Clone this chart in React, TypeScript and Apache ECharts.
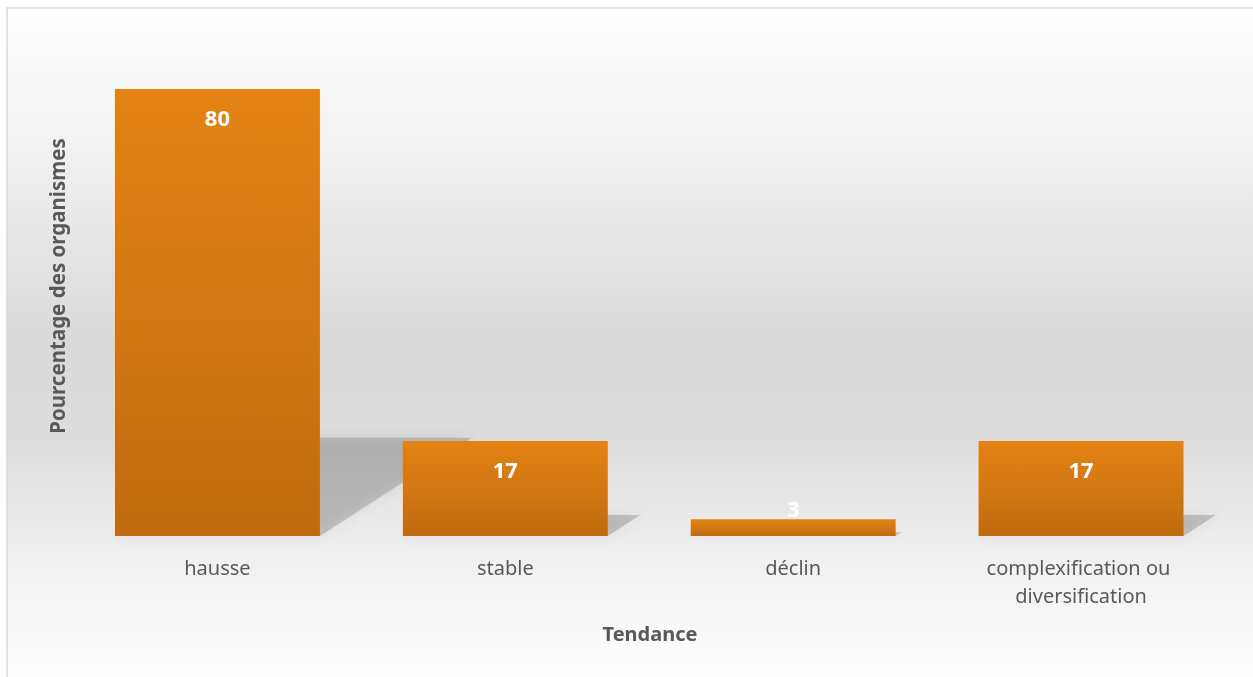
import React, { useEffect, useRef } from "react";
import * as echarts from "echarts";

const categories = ["hausse", "stable", "déclin", "complexification ou diversification"];
const values = [80, 17, 3, 17];
const xAxisTitle = "Tendance";
const yAxisTitle = "Pourcentage des organismes";

const FONT = "'Noto Sans', 'Open Sans', sans-serif";
const BAR_FRACTION = 0.712;

export default function App() {
  const ref = useRef<HTMLDivElement>(null);

  useEffect(() => {
    if (!ref.current) return;
    const chart = echarts.init(ref.current, null, { renderer: "svg" });

    const barGradient = new echarts.graphic.LinearGradient(0, 0, 0, 1, [
      { offset: 0, color: "#E48314" },
      { offset: 1, color: "#C06B10" },
    ]);

    const option: any = {
      animation: false,
      graphic: [
        {
          type: "rect",
          z: -10,
          silent: true,
          shape: { x: 7, y: 8, width: 1270, height: 700 },
          style: {
            fill: new echarts.graphic.LinearGradient(0, 0, 0, 1, [
              { offset: 0, color: "#FFFFFF" },
              { offset: 0.2, color: "#F2F2F2" },
              { offset: 0.48, color: "#D9D9D9" },
              { offset: 0.62, color: "#DDDDDD" },
              { offset: 0.78, color: "#F0F0F0" },
              { offset: 0.95, color: "#FEFEFE" },
              { offset: 1, color: "#FFFFFF" },
            ]),
            stroke: "#D9D9D9",
            lineWidth: 1.5,
          },
        },
        {
          type: "text",
          x: 650,
          y: 633,
          z: 10,
          style: {
            text: xAxisTitle,
            font: `bold 20px ${FONT}`,
            fill: "#595959",
            align: "center",
            verticalAlign: "middle",
          },
        },
        {
          type: "text",
          x: 57,
          y: 286,
          rotation: Math.PI / 2,
          z: 10,
          style: {
            text: yAxisTitle,
            font: `bold 20.5px ${FONT}`,
            fill: "#595959",
            align: "center",
            verticalAlign: "middle",
          },
        },
      ],
      grid: { left: 73.5, right: 28, top: 89, bottom: 141, containLabel: false },
      xAxis: {
        type: "category",
        data: categories,
        axisLine: { show: false },
        axisTick: { show: false },
        axisLabel: {
          interval: 0,
          margin: 17,
          color: "#595959",
          fontFamily: FONT,
          fontSize: 20,
          lineHeight: 28,
          width: 230,
          overflow: "break",
        },
      },
      yAxis: {
        type: "value",
        min: 0,
        max: 80,
        show: false,
        splitLine: { show: false },
      },
      series: [
        {
          type: "custom",
          z: 1,
          silent: true,
          data: values.map((v, i) => [i, v]),
          encode: { x: 0, y: 1 },
          renderItem: (params: any, api: any) => {
            const idx = api.value(0);
            const val = api.value(1);
            const base = api.coord([idx, 0]);
            const top = api.coord([idx, val]);
            const band = api.size([1, 0])[0];
            const w = band * BAR_FRACTION;
            const h = base[1] - top[1];
            const xl = base[0] - w / 2;
            const xr = base[0] + w / 2;
            const yb = base[1];
            const dx = 0.34 * h;
            const dy = 0.22 * h;
            return {
              type: "polygon",
              shape: {
                points: [
                  [xl, yb],
                  [xr, yb],
                  [xr + dx, yb - dy],
                  [xl + dx, yb - dy],
                ],
              },
              style: {
                fill: "rgba(90,90,90,0.28)",
                shadowBlur: 12,
                shadowColor: "rgba(90,90,90,0.4)",
              },
            };
          },
        },
        {
          type: "bar",
          z: 2,
          barWidth: `${BAR_FRACTION * 100}%`,
          data: values.map((v) =>
            v < 10
              ? { value: v, label: { position: "top", distance: 0 } }
              : { value: v }
          ),
          itemStyle: { color: barGradient },
          label: {
            show: true,
            position: "insideTop",
            distance: 17,
            color: "#FFFFFF",
            fontFamily: FONT,
            fontWeight: "bold",
            fontSize: 22,
          },
        },
      ],
    };

    chart.setOption(option);
    return () => chart.dispose();
  }, []);

  return (
    <div
      ref={ref}
      style={{ position: "fixed", left: 0, top: 0, width: 1253, height: 677 }}
    />
  );
}
